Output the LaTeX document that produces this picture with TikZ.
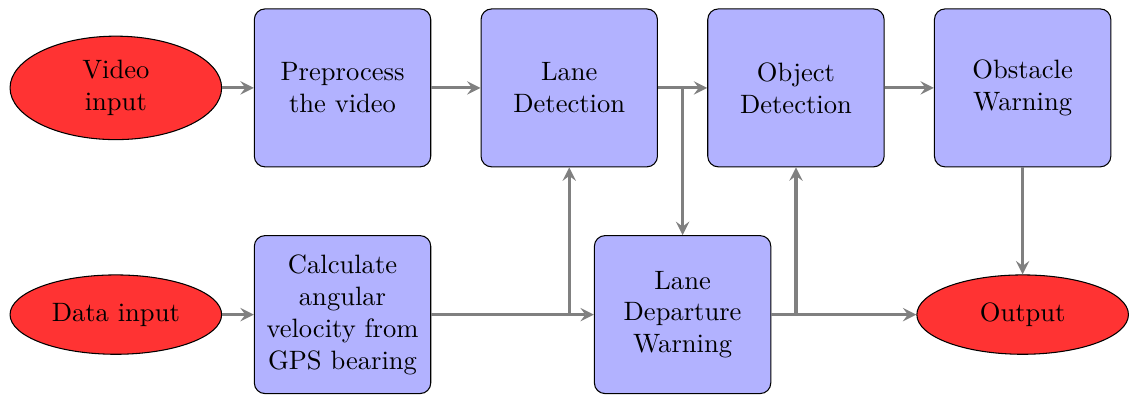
\documentclass[tikz,border=0pt]{standalone}
\usepackage{amsmath}
\usepackage{tikz}
\usetikzlibrary{shapes.geometric}

\begin{document}
\begin{tikzpicture}[>=stealth,
    io/.style={ellipse, draw, fill=red!80, align=center, inner sep=.3333em, minimum width=2.8cm, minimum height=1.05cm},
    box/.style={rectangle, draw, rounded corners, fill=blue!30, align=center, inner sep=.3333em, text width=2.1cm, minimum height=2.09cm},
    line/.style={draw=gray, line width=1.2pt}]
        \matrix[inner sep=0pt, column sep={1.5cm,between origins}, row sep={3cm,between origins}] at (0,0)
        {
          \node[io](VID) {Video\\input}; && \node[box](PRE) {Preprocess the video}; &&
          \node[box](LD) {Lane Detection}; && \node[box](OD) {Object Detection}; &&
          \node[box](OW) {Obstacle Warning};\\
          \node[io](DAT) {Data input}; && \node[box](CAL) {Calculate angular velocity from GPS bearing};
          &&& \node[box](LDW) {Lane Departure Warning}; &&& \node[io](OUT) {Output};\\
        };
      \draw[line,->] (VID) -- (PRE);
      \draw[line,->] (PRE) -- (LD);
      \draw[line,->] (LD) -- (OD);
      \draw[line,->] (LD.east) -| (LDW.north);
      \draw[line,->] (OD) -- (OW);
      \draw[line,->] (OW) -- (OUT);
      \draw[line,->] (DAT) -- (CAL);
      \draw[line,->] (CAL) -- (LDW);
      \draw[line,->] (CAL.east) -| (LD.south);
      \draw[line,->] (LDW) -- (OUT);
      \draw[line,->] (LDW.east) -| (OD.south);
      \useasboundingbox ([xshift=-1.533cm,yshift=1.163cm]VID.center) rectangle ([xshift=13.387cm,yshift=-4.044cm]VID.center);
      \end{tikzpicture}
\end{document}
